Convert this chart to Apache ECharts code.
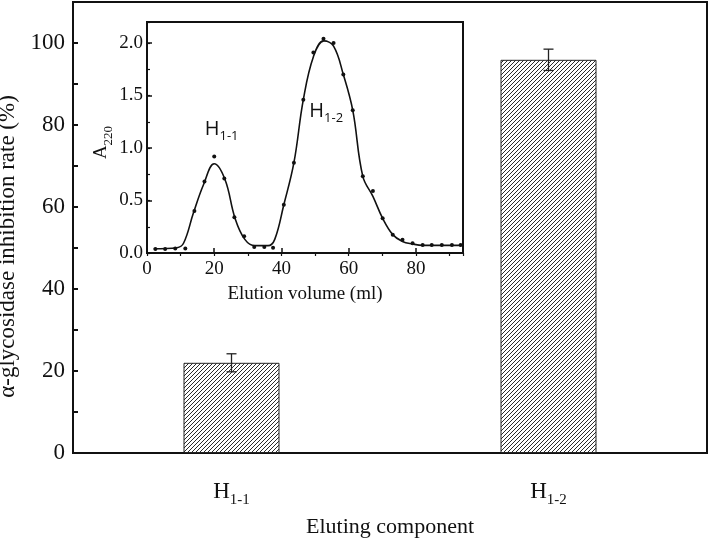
<!DOCTYPE html>
<html>
<head>
<meta charset="utf-8">
<script src="https://cdn.jsdelivr.net/npm/echarts@6/dist/echarts.min.js"></script>
<style>
  html, body { margin: 0; padding: 0; background: #fff; }
  #chart { width: 709px; height: 542px; }
</style>
</head>
<body>
<div id="chart"></div>
<script>
// main bar chart
const categories = ['H1-1', 'H1-2'];
const inhibition = [22.0, 95.9];
const inhibitionErr = [2.2, 2.6];

// inset: elution profile, measured points
const dotVolume = [2.5, 5.4, 8.4, 11.4, 14.1, 17.1, 20.0, 23.0, 26.0, 28.9, 31.9, 34.9, 37.5,
  40.7, 43.7, 46.5, 49.5, 52.5, 55.5, 58.4, 61.2, 64.2, 67.2, 70.1, 73.1, 76.0, 79.0,
  82.0, 84.7, 87.7, 90.7, 93.3];
const dotA220 = [0.038, 0.038, 0.044, 0.044, 0.40, 0.68, 0.92, 0.71, 0.34, 0.16, 0.057, 0.057, 0.05,
  0.46, 0.86, 1.46, 1.91, 2.04, 2.00, 1.70, 1.36, 0.73, 0.59, 0.33, 0.175, 0.127, 0.092,
  0.076, 0.076, 0.076, 0.076, 0.076];

// inset: fitted curve
const curveVolume = [2, 8.9, 10.9, 13.8, 16.8, 20.0, 23.2, 26.2, 29.1, 32.1, 36.0, 38.0,
  40.7, 43.7, 46.5, 49.5, 52.6, 55.5, 58.4, 61.2, 64.2, 67.2, 70.1, 73.1, 76.0, 79.0, 82.0, 93.5];
const curveA220 = [0.04, 0.05, 0.095, 0.38, 0.65, 0.85, 0.70, 0.33, 0.13, 0.07, 0.07, 0.13,
  0.46, 0.86, 1.46, 1.87, 2.02, 1.97, 1.70, 1.36, 0.73, 0.54, 0.33, 0.175, 0.11, 0.086, 0.073, 0.073];

// peak labels in the inset
const peakNames = ['H1-1', 'H1-2'];
const peakLabelX = [22.2, 53.3];
const peakLabelY = [1.18, 1.35];

const serif = "'Liberation Serif', 'Times New Roman', serif";
const sans = "'Open Sans', 'Noto Sans', sans-serif";

function hatch() {
    const c = document.createElement('canvas');
    c.width = 4; c.height = 4;
    const ctx = c.getContext('2d');
    ctx.strokeStyle = '#2a2a2a';
    ctx.lineWidth = 1;
    ctx.beginPath();
    ctx.moveTo(0, 4); ctx.lineTo(4, 0);
    ctx.moveTo(-1, 1); ctx.lineTo(1, -1);
    ctx.moveTo(3, 5); ctx.lineTo(5, 3);
    ctx.stroke();
    return c;
}

function subLabel(v) {
    return v.replace(/^([A-Z])(.*)$/, '{h|$1}{s|$2}');
}

const chart = echarts.init(document.getElementById('chart'));

const option = {
    backgroundColor: '#fff',
    animation: false,
    grid: [
        { left: 73, top: 2, right: 2, bottom: 89, show: true, borderColor: '#111', borderWidth: 2, outerBoundsMode: 'none' },
        { left: 147, top: 22, right: 246, bottom: 289, show: true, borderColor: '#111', borderWidth: 2, outerBoundsMode: 'none' }
    ],
    xAxis: [
        {
            type: 'category', gridIndex: 0, data: categories,
            name: 'Eluting component', nameLocation: 'middle', nameGap: 63,
            nameTextStyle: { fontFamily: serif, fontSize: 22, color: '#111' },
            axisLine: { lineStyle: { color: '#111', width: 2 } },
            axisTick: { show: false },
            axisLabel: {
                margin: 22, color: '#111',
                formatter: subLabel,
                rich: {
                    h: { fontFamily: serif, fontSize: 23, color: '#111' },
                    s: { fontFamily: serif, fontSize: 15, color: '#111', verticalAlign: 'bottom', padding: [18, 0, 0, 0] }
                }
            }
        },
        {
            type: 'value', gridIndex: 1, min: 0, max: 94, interval: 20,
            name: 'Elution volume (ml)', nameLocation: 'middle', nameGap: 32,
            nameTextStyle: { fontFamily: serif, fontSize: 19, color: '#111' },
            axisLine: { lineStyle: { color: '#111', width: 2 } },
            axisTick: { inside: true, length: 5, lineStyle: { color: '#111', width: 1.5 } },
            axisLabel: { fontFamily: serif, fontSize: 19, color: '#111', margin: 7, showMaxLabel: false },
            splitLine: { show: false }
        },
        {
            type: 'value', gridIndex: 1, min: 0, max: 94, interval: 10,
            axisLine: { show: false },
            axisTick: { inside: true, length: 3, lineStyle: { color: '#111', width: 1.2 } },
            axisLabel: { show: false },
            splitLine: { show: false }
        }
    ],
    yAxis: [
        {
            type: 'value', gridIndex: 0, min: 0, max: 110, interval: 20,
            name: 'α-glycosidase inhibition rate (%)', nameLocation: 'middle', nameGap: 45,
            nameTextStyle: { fontFamily: serif, fontSize: 23, color: '#111', padding: [0, 38, 0, 0] },
            axisLine: { show: true, lineStyle: { color: '#111', width: 2 } },
            axisTick: { inside: true, length: 9, lineStyle: { color: '#111', width: 2 } },
            axisLabel: { fontFamily: serif, fontSize: 23, color: '#111', margin: 8, showMaxLabel: false },
            splitLine: { show: false }
        },
        {
            type: 'value', gridIndex: 0, min: 0, max: 110, interval: 10, position: 'left', offset: 0,
            axisLine: { show: false },
            axisTick: { show: true, inside: true, length: 5, lineStyle: { color: '#111', width: 2 } },
            axisLabel: { show: false },
            splitLine: { show: false }
        },
        {
            type: 'value', gridIndex: 1, min: 0, max: 2.2, interval: 0.5,
            name: '{a|A}{s|220}', nameLocation: 'middle', nameGap: 32,
            nameTextStyle: {
                color: '#111',
                padding: [0, 10, 0, 0],
                rich: {
                    a: { fontFamily: serif, fontSize: 19, color: '#111' },
                    s: { fontFamily: serif, fontSize: 13, color: '#111', verticalAlign: 'bottom', padding: [14, 0, 0, 0] }
                }
            },
            axisLine: { show: true, lineStyle: { color: '#111', width: 2 } },
            axisTick: { inside: true, length: 5, lineStyle: { color: '#111', width: 1.5 } },
            axisLabel: { fontFamily: serif, fontSize: 19, color: '#111', margin: 4, showMaxLabel: false,
                formatter: v => v.toFixed(1) },
            splitLine: { show: false }
        },
        {
            type: 'value', gridIndex: 1, min: 0, max: 2.2, interval: 0.25, position: 'left', offset: 0,
            axisLine: { show: false },
            axisTick: { show: true, inside: true, length: 3, lineStyle: { color: '#111', width: 1.2 } },
            axisLabel: { show: false },
            splitLine: { show: false }
        }
    ],
    series: [
        {
            type: 'bar', xAxisIndex: 0, yAxisIndex: 0,
            data: inhibition, barWidth: 96,
            itemStyle: { color: { image: hatch(), repeat: 'repeat' }, borderColor: '#222', borderWidth: 1 }
        },
        {
            type: 'custom', xAxisIndex: 0, yAxisIndex: 0, z: 5,
            data: inhibition.map((v, i) => [i, v, inhibitionErr[i]]),
            renderItem: function (params, api) {
                const x = api.value(0), v = api.value(1), e = api.value(2);
                const hi = api.coord([x, v + e]);
                const lo = api.coord([x, v - e]);
                const w = 5;
                const style = { stroke: '#222', lineWidth: 1.3 };
                return {
                    type: 'group',
                    children: [
                        { type: 'line', shape: { x1: hi[0], y1: hi[1], x2: lo[0], y2: lo[1] }, style: style },
                        { type: 'line', shape: { x1: hi[0] - w, y1: hi[1], x2: hi[0] + w, y2: hi[1] }, style: style },
                        { type: 'line', shape: { x1: lo[0] - w, y1: lo[1], x2: lo[0] + w, y2: lo[1] }, style: style }
                    ]
                };
            }
        },
        {
            type: 'line', xAxisIndex: 1, yAxisIndex: 2,
            data: curveVolume.map((x, i) => [x, curveA220[i]]),
            smooth: 0.4, showSymbol: false,
            lineStyle: { color: '#111', width: 1.6 }
        },
        {
            type: 'scatter', xAxisIndex: 1, yAxisIndex: 2,
            data: dotVolume.map((x, i) => [x, dotA220[i]]),
            symbolSize: 4, itemStyle: { color: '#111', opacity: 1 }
        },
        {
            type: 'scatter', xAxisIndex: 1, yAxisIndex: 2, symbolSize: 0,
            data: peakNames.map((n, i) => ({ name: n, value: [peakLabelX[i], peakLabelY[i]] })),
            itemStyle: { color: '#111', opacity: 1 },
            label: {
                show: true, position: 'inside', color: '#111', opacity: 1, textBorderWidth: 0,
                formatter: p => subLabel(p.name),
                rich: {
                    h: { fontFamily: sans, fontSize: 20, color: '#111', opacity: 1 },
                    s: { fontFamily: sans, fontSize: 13, color: '#111', opacity: 1, verticalAlign: 'bottom', padding: [14, 0, 0, 0] }
                }
            },
            emphasis: { disabled: true }
        }
    ]
};

chart.setOption(option);
</script>
</body>
</html>
